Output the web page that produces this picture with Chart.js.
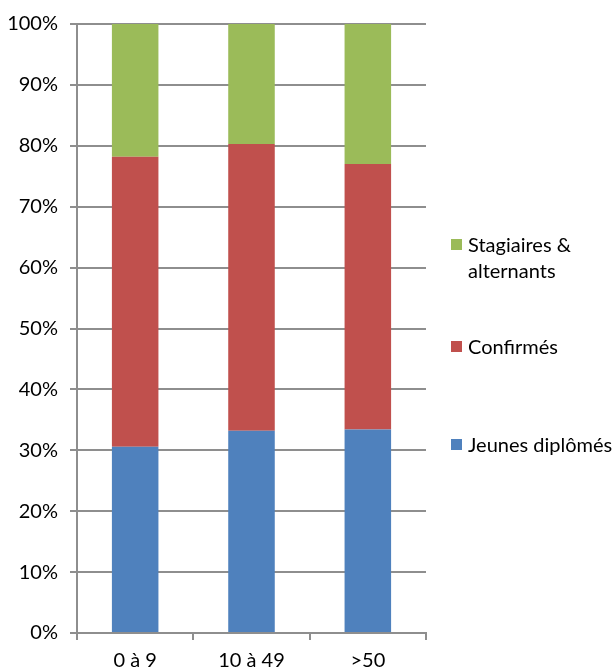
<!DOCTYPE html>
<html>
<head>
<meta charset="utf-8">
<script src="https://cdn.jsdelivr.net/npm/chart.js@4/dist/chart.umd.min.js"></script>
<style>
  html, body { margin: 0; padding: 0; background: #fff; overflow: hidden; }
  #wrap { position: relative; width: 615px; height: 671px; overflow: hidden; }
  canvas { position: absolute; left: 0; top: 0; }
  .leg { position: absolute; left: 451px; font-family: Lato, sans-serif; font-size: 20px; color: #000; line-height: 26px; }
  .leg .sw { position: absolute; left: 0; top: 8px; width: 11px; height: 11px; }
  .leg .tx { position: absolute; left: 17px; top: 0; white-space: nowrap; }
</style>
</head>
<body>
<div id="wrap">
  <canvas id="c" width="615" height="673"></canvas>
</div>
<script>
const categories = ["0 à 9", "10 à 49", ">50"];
const jeunesDiplomes = [30.6, 33.2, 33.4];
const confirmes = [47.6, 47.1, 43.6];
const stagiaires = [21.8, 19.7, 23.0];
const yTicks = [0, 10, 20, 30, 40, 50, 60, 70, 80, 90, 100];

const seriesNames = ["Jeunes diplômés", "Confirmés", "Stagiaires & alternants"];
const seriesColors = ["#4F81BD", "#C0504D", "#9BBB59"];
const seriesData = [jeunesDiplomes, confirmes, stagiaires];

const font = { family: "Lato, sans-serif", size: 20 };
const gridColor = "#8e8e8e";

new Chart(document.getElementById("c"), {
  type: "bar",
  data: {
    labels: categories,
    datasets: seriesData.map((d, i) => ({
      label: seriesNames[i],
      data: d,
      backgroundColor: seriesColors[i],
      borderWidth: 0,
      categoryPercentage: 1.0,
      barPercentage: 0.4
    }))
  },
  options: {
    responsive: false,
    animation: false,
    layout: { padding: { left: 0, right: 189, top: 23, bottom: 0 } },
    plugins: { legend: { display: false }, tooltip: { enabled: false } },
    scales: {
      x: {
        stacked: true,
        grid: { display: true, drawOnChartArea: false, drawTicks: true, tickLength: 7, color: gridColor, lineWidth: 2, offset: true },
        border: { display: true, color: gridColor, width: 2 },
        ticks: { font: font, color: "#000", padding: 9 },
        afterFit: s => { s.height = 40; }
      },
      y: {
        stacked: true,
        min: 0, max: 100,
        afterBuildTicks: s => { s.ticks = yTicks.map(v => ({ value: v })); },
        grid: { color: gridColor, lineWidth: 2, tickLength: 7 },
        border: { display: true, color: gridColor, width: 2 },
        ticks: { font: font, color: "#000", padding: 12, callback: v => v + "%" },
        afterFit: s => { s.width = 77; }
      }
    }
  }
});

// legend (real text), order as in reference: top to bottom
const legendItems = [
  { idx: 2, top: 231, lines: ["Stagiaires &", "alternants"] },
  { idx: 1, top: 333, lines: ["Confirmés"] },
  { idx: 0, top: 431, lines: ["Jeunes diplômés"] }
];
const wrap = document.getElementById("wrap");
legendItems.forEach(it => {
  const d = document.createElement("div");
  d.className = "leg";
  d.style.top = it.top + "px";
  const sw = document.createElement("div");
  sw.className = "sw";
  sw.style.background = seriesColors[it.idx];
  const tx = document.createElement("div");
  tx.className = "tx";
  tx.innerHTML = it.lines.map(l => l.replace(/&/g, "&amp;")).join("<br>");
  d.appendChild(sw); d.appendChild(tx);
  wrap.appendChild(d);
});
</script>
</body>
</html>
